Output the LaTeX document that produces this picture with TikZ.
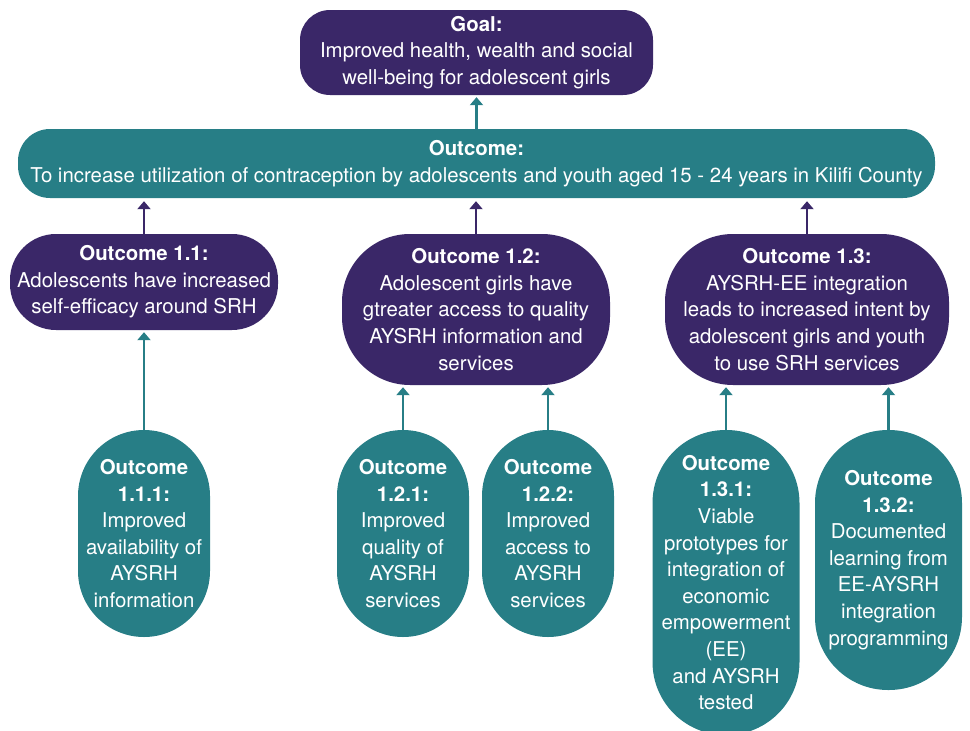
\documentclass[tikz,border=0pt]{standalone}
\usepackage{fontspec}
\setmainfont{TeX Gyre Heros}
\usetikzlibrary{arrows.meta}
\definecolor{purp}{HTML}{3A2768}
\definecolor{teal}{HTML}{277E86}
\tikzset{
  box/.style={draw=none, text=white, align=center, inner sep=0pt,
    font=\fontsize{20.4}{26.6}\selectfont},
  pbox/.style={box, fill=purp},
  tbox/.style={box, fill=teal},
  parrow/.style={draw=purp, line width=2.6pt, -{Triangle[width=13pt,length=8pt]}, shorten >=3pt},
  tarrow/.style={draw=teal, line width=2.6pt, -{Triangle[width=13pt,length=8pt]}, shorten >=2pt},
}
\begin{document}
\begin{tikzpicture}[x=1pt,y=-1pt]
\useasboundingbox (0,0) rectangle (970,731);
% Goal
\node[pbox, rounded corners=30pt, minimum width=353pt, minimum height=85pt] (goal) at (476.5,52.5)
  {\textbf{Goal:}\\Improved health, wealth and social\\well-being for adolescent girls};
% Outcome
\node[tbox, rounded corners=32pt, minimum width=917pt, minimum height=69pt] (out) at (476.5,163.5)
  {\textbf{Outcome:}\\To increase utilization of contraception by adolescents and youth aged 15 - 24 years in Kilifi County};
% Level 2
\node[pbox, rounded corners=46pt, minimum width=268pt, minimum height=96pt] (o11) at (144,282)
  {\textbf{Outcome 1.1:}\\Adolescents have increased\\self-efficacy around SRH};
\node[pbox, rounded corners=68pt, minimum width=268pt, minimum height=151pt] (o12) at (476,309.5)
  {\textbf{Outcome 1.2:}\\Adolescent girls have\\gtreater access to quality\\AYSRH information and\\services};
\node[pbox, rounded corners=68pt, minimum width=284pt, minimum height=151pt] (o13) at (807,309.5)
  {\textbf{Outcome 1.3:}\\AYSRH-EE integration\\leads to increased intent by\\adolescent girls and youth\\to use SRH services};
% Level 3
\node[tbox, rounded corners=66pt, minimum width=132pt, minimum height=207pt] (o111) at (144,533.5)
  {\textbf{Outcome}\\\textbf{1.1.1:}\\Improved\\availability of\\AYSRH\\information};
\node[tbox, rounded corners=66pt, minimum width=132pt, minimum height=207pt] (o121) at (403,533.5)
  {\textbf{Outcome}\\\textbf{1.2.1:}\\Improved\\quality of\\AYSRH\\services};
\node[tbox, rounded corners=66pt, minimum width=132pt, minimum height=207pt] (o122) at (548,533.5)
  {\textbf{Outcome}\\\textbf{1.2.2:}\\Improved\\access to\\AYSRH\\services};
\node[tbox, rounded corners=73pt, minimum width=147pt, minimum height=305pt] (o131) at (726,582.5)
  {\textbf{Outcome}\\\textbf{1.3.1:}\\Viable\\prototypes for\\integration of\\economic\\empowerment\\(EE)\\and AYSRH\\tested};
\node[tbox, rounded corners=73pt, minimum width=147pt, minimum height=260pt] (o132) at (888.5,560)
  {\textbf{Outcome}\\\textbf{1.3.2:}\\Documented\\learning from\\EE-AYSRH\\integration\\programming};
% Arrows
\draw[tarrow] (out.north -| goal.south) -- (goal.south);
\draw[parrow] (o11.north) -- (o11.north |- out.south);
\draw[parrow] (o12.north) -- (o12.north |- out.south);
\draw[parrow] (o13.north) -- (o13.north |- out.south);
\draw[tarrow] (o111.north) -- (o11.south);
\draw[tarrow] (o121.north) -- (o121.north |- o12.south);
\draw[tarrow] (o122.north) -- (o122.north |- o12.south);
\draw[tarrow] (o131.north) -- (o131.north |- o13.south);
\draw[tarrow] (o132.north) -- (o132.north |- o13.south);
\end{tikzpicture}
\end{document}
